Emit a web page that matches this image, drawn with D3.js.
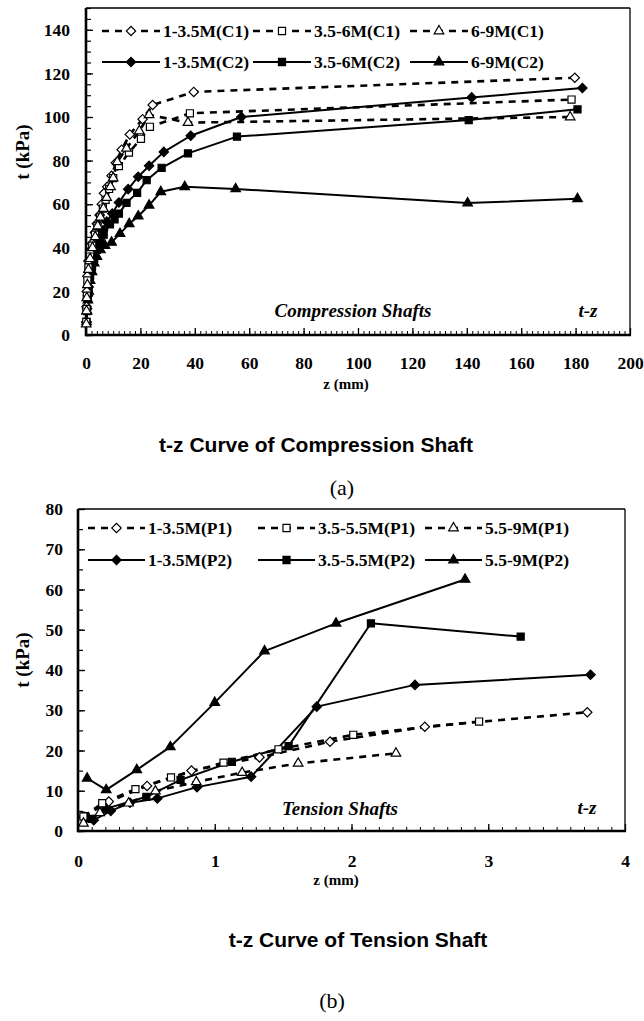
<!DOCTYPE html>
<html><head><meta charset="utf-8">
<script src="https://cdn.jsdelivr.net/npm/d3@7"></script>
<style>body{margin:0;background:#fff}svg text{fill:#000}</style>
</head><body>
<svg id="chart" width="644" height="1021"></svg>
<script>
// ---------- DATA: compression shafts (z mm, t kPa) ----------
const compNames = ["1-3.5M(C1)","3.5-6M(C1)","6-9M(C1)","1-3.5M(C2)","3.5-6M(C2)","6-9M(C2)"];
const compC1a = [[0.1,6],[0.2,13],[0.3,20],[0.5,27],[0.9,34],[1.5,38],[2.2,42],[3.3,47],[4,51],[5,55],[5.8,60],[6.6,65],[7.8,68],[9.4,73],[11,79],[13.1,85],[16.1,92],[20.8,99],[24.5,105.5],[39.6,111.5],[179.7,118]];
const compC1b = [[0.1,6],[0.2,12],[0.3,18],[0.5,25],[0.9,31],[1.5,36],[2.3,41],[3.3,46],[4.2,50],[5.2,54],[6.2,58],[7.2,62],[8.5,67],[10,72],[12.1,77.5],[15.8,83.7],[20.2,90],[23.5,95.5],[38.2,101.7],[178.5,108]];
const compC1c = [[0.1,5],[0.2,11],[0.3,17],[0.5,23],[0.9,30],[1.5,35],[2.4,40],[3.4,45],[4.3,50],[5.3,54],[6.4,58],[7.6,63],[9,68],[10,72],[11.5,79.4],[14.9,85.6],[19.6,93.6],[23.2,101],[37.5,97.4],[178,100]];
const compC2a = [[0.2,6],[0.4,12],[0.7,18],[1,22],[1.5,28],[2.2,32],[3,36],[4,40],[5.1,44],[6.3,48],[7.6,52],[9.65,55.7],[12.1,60.8],[15.5,66.9],[19.2,72.6],[23.2,77.6],[28.6,84],[38.5,91.4],[57.1,100],[141.8,109],[182.5,113.3]];
const compC2b = [[0.2,6],[0.4,11],[0.7,17],[1,21],[1.5,27],[2.2,31],[3,35],[4,39],[5.1,42],[6.5,46],[8.8,50.8],[10.5,53],[12.1,55.7],[14.9,60.6],[18.8,65.2],[22.3,71],[27.8,76.7],[37.5,83.3],[55.5,91],[140.7,98.6],[180.7,103.5]];
const compC2c = [[0.2,6],[0.4,11],[0.7,16],[1,20],[1.5,25],[2.2,29],[3,33],[4,36],[5.3,39],[7,41],[9.4,42.5],[12.5,46.5],[15.9,51],[19.2,54.5],[23.2,59.5],[27.5,65.7],[36.3,68],[55,67],[140.3,60.5],[180.7,62.5]];
const compXTicks = [0,20,40,60,80,100,120,140,160,180,200];
const compYTicks = [0,20,40,60,80,100,120,140];

// ---------- DATA: tension shafts ----------
const tensNames = ["1-3.5M(P1)","3.5-5.5M(P1)","5.5-9M(P1)","1-3.5M(P2)","3.5-5.5M(P2)","5.5-9M(P2)"];
const tensP1a = [[0.04,3.5],[0.225,7.3],[0.505,11.2],[0.83,15],[1.327,18.3],[1.843,22.2],[2.536,25.9],[3.724,29.5]];
const tensP1b = [[0.04,3.6],[0.177,6.9],[0.42,10.4],[0.68,13.3],[1.064,17],[1.466,20.3],[2.013,23.9],[2.933,27.2]];
const tensP1c = [[0.04,1.9],[0.16,4.5],[0.37,6.9],[0.566,9.9],[0.865,12.2],[1.2,14.5],[1.61,16.8],[2.325,19.3]];
const tensP2a = [[0.05,3.5],[0.115,2.7],[0.24,5],[0.38,7],[0.58,8.1],[0.87,10.9],[1.266,13.5],[1.746,30.9],[2.464,36.3],[3.748,38.8]];
const tensP2b = [[0.05,3.6],[0.1,3],[0.2,5.5],[0.5,8.5],[0.75,12.7],[1.125,17.2],[1.54,21.1],[2.142,51.6],[3.237,48.3]];
const tensP2c = [[0.067,13.1],[0.206,10.2],[0.43,15.2],[0.675,20.9],[1.0,31.9],[1.364,44.7],[1.887,51.6],[2.83,62.5]];
const tensXTicks = [0,1,2,3,4];
const tensYTicks = [0,10,20,30,40,50,60,70,80];

// ---------- styling ----------
const SERIF = "'Liberation Serif','Times New Roman',serif";
const SANS = "'Liberation Sans',Arial,sans-serif";
const shapes = ["diamond","square","triangle","diamond","square","triangle"];
const filled = [false,false,false,true,true,true];
const dashed = [true,true,true,false,false,false];

const svg = d3.select("#chart");

function markerPath(shape){
  if(shape==="diamond") return d3.symbol(d3.symbolSquare, 44)();
  if(shape==="square") return d3.symbol(d3.symbolSquare, 50)();
  return d3.symbol(d3.symbolTriangle, 40)();
}
function addMarker(g, shape, fill, x, y){
  g.append("path").attr("d", markerPath(shape))
    .attr("transform", `translate(${x},${y})` + (shape==="diamond"?" rotate(45)":""))
    .attr("fill", fill?"#000":"#fff").attr("stroke","#000").attr("stroke-width",1.2);
}
function serifText(sel, size, italic){
  sel.style("font-family",SERIF).style("font-weight","bold").style("font-size",size+"px")
     .style("font-style",italic?"italic":"normal").attr("fill","#000");
}

function drawPanel(cfg){
  const g = svg.append("g");
  const x = d3.scaleLinear().domain(cfg.xDomain).range(cfg.xRange);
  const y = d3.scaleLinear().domain(cfg.yDomain).range(cfg.yRange);
  const [x0,x1] = cfg.xRange, [y0,y1] = cfg.yRange;

  // minor ticks
  g.append("g").attr("transform",`translate(0,${y0})`)
    .call(d3.axisBottom(x).tickValues(cfg.xMinor).tickFormat("").tickSize(-4))
    .call(s=>s.select(".domain").remove())
    .call(s=>s.selectAll("line").attr("stroke","#000").attr("stroke-width",1));
  g.append("g").attr("transform",`translate(${x0},0)`)
    .call(d3.axisLeft(y).tickValues(cfg.yMinor).tickFormat("").tickSize(-5))
    .call(s=>s.select(".domain").remove())
    .call(s=>s.selectAll("line").attr("stroke","#000").attr("stroke-width",1.2));
  // major ticks + labels
  g.append("g").attr("transform",`translate(0,${y0})`)
    .call(d3.axisBottom(x).tickValues(cfg.xTicks).tickSize(-7).tickPadding(cfg.xPad).tickFormat(d3.format("d")))
    .call(s=>s.select(".domain").remove())
    .call(s=>s.selectAll("line").attr("stroke","#000").attr("stroke-width",1.3))
    .call(s=>serifText(s.selectAll("text"),17.5,false));
  g.append("g").attr("transform",`translate(${x0},0)`)
    .call(d3.axisLeft(y).tickValues(cfg.yTicks).tickSize(-7).tickPadding(cfg.yPad).tickFormat(d3.format("d")))
    .call(s=>s.select(".domain").remove())
    .call(s=>s.selectAll("line").attr("stroke","#000").attr("stroke-width",1.3))
    .call(s=>serifText(s.selectAll("text"),17.5,false));

  // frame
  g.append("line").attr("x1",x0).attr("x2",x1).attr("y1",y1).attr("y2",y1).attr("stroke","#000").attr("stroke-width",1.3);
  g.append("line").attr("x1",x1).attr("x2",x1).attr("y1",y1).attr("y2",y0).attr("stroke","#000").attr("stroke-width",1.3);
  g.append("line").attr("x1",x0).attr("x2",x1+1).attr("y1",y0).attr("y2",y0).attr("stroke","#000").attr("stroke-width",2.6);
  g.append("line").attr("x1",x0).attr("x2",x0).attr("y1",y1).attr("y2",y0+1.3).attr("stroke","#000").attr("stroke-width",2.6);

  // series lines
  const line = d3.line().x(d=>x(d[0])).y(d=>y(d[1]));
  cfg.series.forEach((s,i)=>{
    g.append("path").datum(s).attr("d",line).attr("fill","none").attr("stroke","#000")
      .attr("stroke-width",dashed[i]?2.6:2).attr("stroke-dasharray",dashed[i]?"7,6":null)
      .attr("stroke-linejoin","round");
  });
  // markers: filled first, then open ones on top
  [3,4,5,0,1,2].forEach(i=>{
    cfg.series[i].forEach(d=>addMarker(g, shapes[i], filled[i], x(d[0]), y(d[1])));
  });

  // legend
  cfg.names.forEach((n,i)=>{
    const col = i%3, row = Math.floor(i/3);
    const lx = cfg.legX[col], ly = cfg.legY[row];
    g.append("line").attr("x1",lx).attr("x2",lx+cfg.legLen).attr("y1",ly).attr("y2",ly)
      .attr("stroke","#000").attr("stroke-width",dashed[i]?2.6:2).attr("stroke-dasharray",dashed[i]?"7,6":null);
    addMarker(g, shapes[i], filled[i], lx+cfg.legLen/2, ly);
    serifText(g.append("text").attr("x",lx+cfg.legLen+3).attr("y",ly).attr("dy","0.35em").text(n),17.5,false);
  });

  // axis titles
  serifText(g.append("text").attr("transform",`translate(${cfg.yLabelPos[0]},${cfg.yLabelPos[1]}) rotate(-90)`)
    .attr("text-anchor","middle").attr("dy","0.35em").text("t (kPa)"),19,false);
  serifText(g.append("text").attr("x",cfg.xLabelPos[0]).attr("y",cfg.xLabelPos[1]).attr("text-anchor","middle").attr("dy","0.35em")
    .text("z (mm)"),15,false);
  // annotations
  serifText(g.append("text").attr("x",cfg.annoPos[0]).attr("y",cfg.annoPos[1]).attr("text-anchor","middle").attr("dy","0.35em")
    .text(cfg.anno),19,true);
  serifText(g.append("text").attr("x",cfg.tzPos[0]).attr("y",cfg.tzPos[1]).attr("text-anchor","middle").attr("dy","0.35em")
    .text("t-z"),19,true);
  // titles
  g.append("text").attr("x",cfg.titlePos[0]).attr("y",cfg.titlePos[1]).attr("text-anchor","middle").attr("dy","0.35em")
    .style("font-family",SANS).style("font-weight","bold").style("font-size","21px").text(cfg.title);
  g.append("text").attr("x",cfg.subPos[0]).attr("y",cfg.subPos[1]).attr("text-anchor","middle").attr("dy","0.35em")
    .style("font-family",SERIF).style("font-size","22px").text(cfg.sub);
}

drawPanel({
  xDomain:[0,200], xRange:[86,630], yDomain:[0,150], yRange:[335,8],
  xTicks:compXTicks, yTicks:compYTicks,
  xMinor:d3.range(0,201,2), yMinor:d3.range(0,151,5),
  xPad:22, yPad:16,
  series:[compC1a,compC1b,compC1c,compC2a,compC2b,compC2c], names:compNames,
  legX:[102,253,410], legY:[31,62], legLen:58,
  yLabelPos:[22,152], xLabelPos:[346,384],
  anno:"Compression Shafts", annoPos:[353,310], tzPos:[588,310],
  title:"t-z Curve of Compression Shaft", titlePos:[316,445],
  sub:"(a)", subPos:[342,487]
});
drawPanel({
  xDomain:[0,4], xRange:[78,625], yDomain:[0,80], yRange:[831,509],
  xTicks:tensXTicks, yTicks:tensYTicks,
  xMinor:d3.range(0,4.001,0.1), yMinor:d3.range(0,81,5),
  xPad:24, yPad:15,
  series:[tensP1a,tensP1b,tensP1c,tensP2a,tensP2b,tensP2c], names:tensNames,
  legX:[88,258,425], legY:[528,560], legLen:57,
  yLabelPos:[22,660], xLabelPos:[336,880],
  anno:"Tension Shafts", annoPos:[340,808], tzPos:[587,807],
  title:"t-z Curve of Tension Shaft", titlePos:[358,940],
  sub:"(b)", subPos:[332,1000]
});
</script>
</body></html>
